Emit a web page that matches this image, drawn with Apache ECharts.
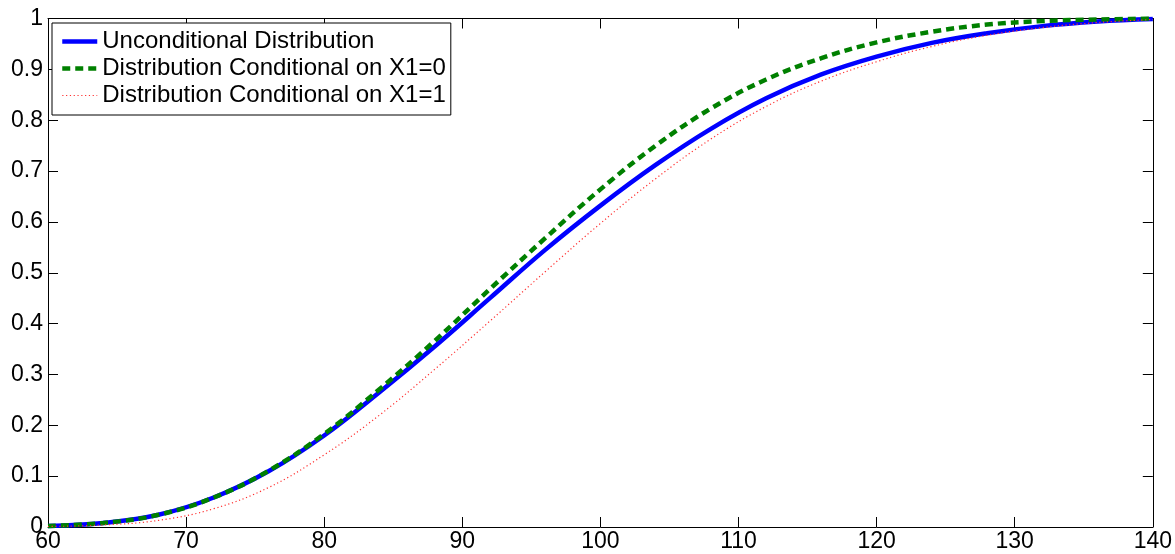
<!DOCTYPE html>
<html>
<head>
<meta charset="utf-8">
<script src="https://cdn.jsdelivr.net/npm/echarts@6/dist/echarts.min.js"></script>
<style>html,body{margin:0;padding:0;background:#fff}#c{width:1175px;height:554px}</style>
</head>
<body>
<div id="c"></div>
<script>
const xValues = [60,64,68,72,76,80,84,88,92,96,100,104,108,112,116,120,124,128,132,136,140];
const unconditional = [0.002,0.008,0.024,0.058,0.110,0.180,0.265,0.355,0.450,0.545,0.632,0.712,0.783,0.843,0.890,0.925,0.952,0.971,0.985,0.994,0.999];
const condX1eq0 = [0.002,0.008,0.024,0.058,0.111,0.183,0.271,0.366,0.468,0.568,0.664,0.750,0.823,0.880,0.922,0.953,0.974,0.988,0.995,0.998,1.000];
const condX1eq1 = [0.001,0.004,0.013,0.036,0.078,0.142,0.220,0.310,0.405,0.502,0.597,0.685,0.763,0.827,0.877,0.915,0.945,0.967,0.982,0.992,0.998];
const seriesNames = ['Unconditional Distribution','Distribution Conditional on X1=0','Distribution Conditional on X1=1'];

const pairs = ys => xValues.map((x,i)=>[x, ys[i]]);
const font = 'Liberation Sans, Arial, Helvetica, sans-serif';
const chart = echarts.init(document.getElementById('c'), null, {renderer:'canvas'});
const axisCommon = {
  axisLine:{show:true, onZero:false, lineStyle:{color:'#000', width:1}},
  axisTick:{show:true, inside:true, length:10, lineStyle:{color:'#000', width:1}},
  splitLine:{show:false}
};
const styles = [
  {color:'#0000ff', width:4.5, type:'solid'},
  {color:'#008000', width:4.5, type:[8,5]},
  {color:'#ff3030', width:1.2, type:[1.2,2.6]}
];
chart.setOption({
  animation:false,
  backgroundColor:'#fff',
  grid:{left:48, right:20, top:18.5, bottom:27, containLabel:false},
  legend:{
    left:52, top:23, orient:'vertical',
    backgroundColor:'#fff', borderColor:'#000', borderWidth:1,
    padding:[5,5,6,8], itemGap:0, itemWidth:35, itemHeight:14,
    textStyle:{fontFamily:font, fontSize:24, color:'#000', lineHeight:27},
    itemStyle:{opacity:0},
    data:seriesNames.map((n,i)=>({name:n, itemStyle:{opacity:0}, lineStyle:Object.assign({}, styles[i])}))
  },
  xAxis:[
    Object.assign({type:'value', min:60, max:140, interval:10, position:'bottom',
      axisLabel:{color:'#000', fontFamily:font, fontSize:23, margin:3, formatter:v=>String(v)}}, axisCommon),
    Object.assign({type:'value', min:60, max:140, interval:10, position:'top',
      axisLabel:{show:false}}, axisCommon)
  ],
  yAxis:[
    Object.assign({type:'value', min:0, max:1, interval:0.1, position:'left',
      axisLabel:{color:'#000', fontFamily:font, fontSize:23, margin:5, formatter:v=>String(Math.round(v*10)/10)}}, axisCommon),
    Object.assign({type:'value', min:0, max:1, interval:0.1, position:'right',
      axisLabel:{show:false}}, axisCommon)
  ],
  series:[
    {name:seriesNames[0], type:'line', data:pairs(unconditional), smooth:0.4, showSymbol:false, symbol:'none',
      lineStyle:styles[0], itemStyle:{color:styles[0].color}, z:2},
    {name:seriesNames[1], type:'line', data:pairs(condX1eq0), smooth:0.4, showSymbol:false, symbol:'none',
      lineStyle:styles[1], itemStyle:{color:styles[1].color}, z:3},
    {name:seriesNames[2], type:'line', data:pairs(condX1eq1), smooth:0.4, showSymbol:false, symbol:'none',
      lineStyle:styles[2], itemStyle:{color:styles[2].color}, z:4}
  ]
});
</script>
</body>
</html>
